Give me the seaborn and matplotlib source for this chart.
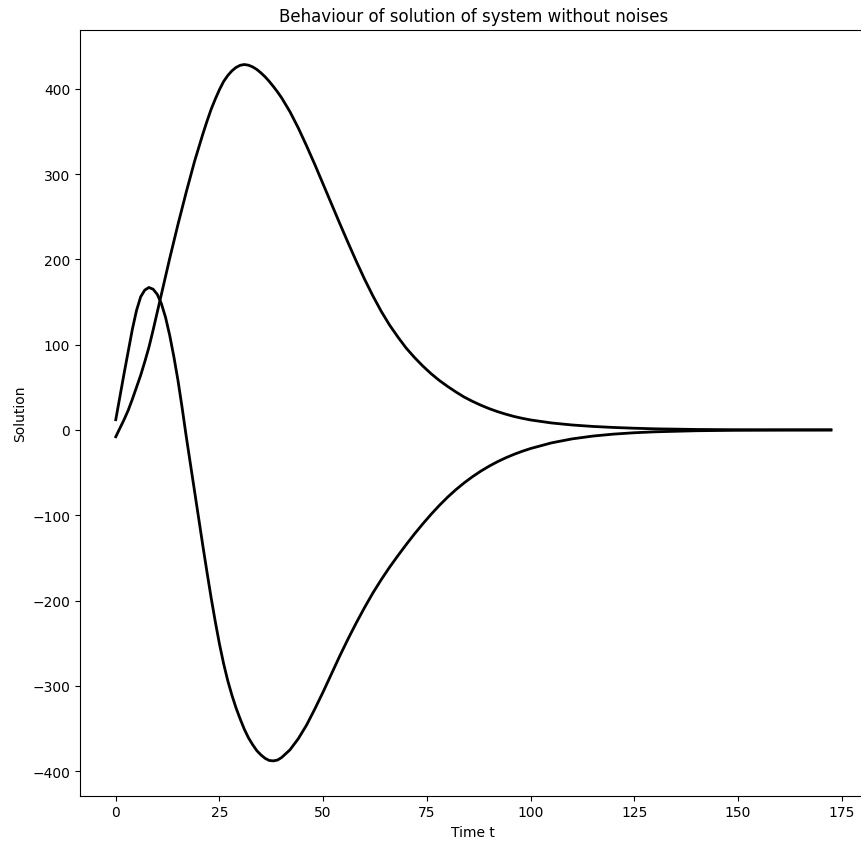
import numpy as np
import pandas as pd
import matplotlib
matplotlib.use('Agg')
import matplotlib.pyplot as plt
import seaborn as sns

# time points and the two solution components
t = [0, 1, 2, 3, 4, 5, 6, 7, 8, 9, 10, 11, 12, 13, 14, 15, 16, 17, 18, 19,
     20, 21, 22, 23, 24, 25, 26, 27, 28, 29, 30, 31, 32, 33, 34, 35, 36, 37,
     38, 39, 40, 42, 44, 46, 48, 50, 52, 54, 56, 58, 60, 62, 64, 66, 68, 70,
     72, 74, 76, 78, 80, 82, 84, 86, 88, 90, 92, 94, 96, 98, 100, 105, 110,
     115, 120, 125, 130, 140, 150, 160, 172.4]

x1 = [-8, 2, 12, 23, 36, 50, 64, 80, 97, 117, 138, 159, 180, 201, 221,
      241, 260, 279, 297, 315, 331, 347, 362, 376, 388, 399, 408.5, 415.5,
      421, 425, 427.5, 428.4, 427.6, 425.6, 422.6, 418.6, 414, 408.6, 402.6,
      396.2, 389.2, 373, 354, 333, 311, 288, 265, 242, 219.5, 197.5, 176.5,
      157, 139, 123, 109, 96, 85, 75, 66, 58, 51, 44.5, 38.5, 33.5, 29, 25,
      21.5, 18.5, 15.8, 13.6, 11.7, 8.2, 5.8, 4.1, 2.9, 2.0, 1.3, 0.55,
      0.22, 0.09, 0.03]

x2 = [12, 39, 66, 92, 118, 140, 156, 164, 167, 165, 159, 148, 132, 111, 86,
      58, 26, -8, -40, -72, -104, -136, -167, -197, -225, -251, -274, -294,
      -311, -326, -339, -351, -361, -369, -376, -381, -385, -387.5, -388,
      -387, -384, -375, -362, -346, -327, -307, -286, -265, -245, -226, -208,
      -191, -175.5, -161, -147.5, -134.5, -122, -110.2, -99, -88.5, -78.8,
      -70, -62, -54.8, -48.3, -42.5, -37.3, -32.7, -28.6, -25, -21.8, -15.2,
      -10.5, -7.2, -4.9, -3.3, -2.2, -0.95, -0.4, -0.16, -0.05]

df = pd.DataFrame({'t': t, 'x1': x1, 'x2': x2})

fig = plt.figure(figsize=(8.61, 8.45), dpi=100)
# axes run past the right edge, as in the cropped reference
ax = fig.add_axes([80 / 861, 1 - 796.7 / 845, 786.7 / 861, 766 / 845])

sns.lineplot(data=df, x='t', y='x1', color='black', linewidth=2, ax=ax)
sns.lineplot(data=df, x='t', y='x2', color='black', linewidth=2, ax=ax)

ax.set_title('Behaviour of solution of system without noises')
ax.set_xlabel('Time t')
ax.set_ylabel('Solution')

fig.savefig('out.png', dpi=100)
